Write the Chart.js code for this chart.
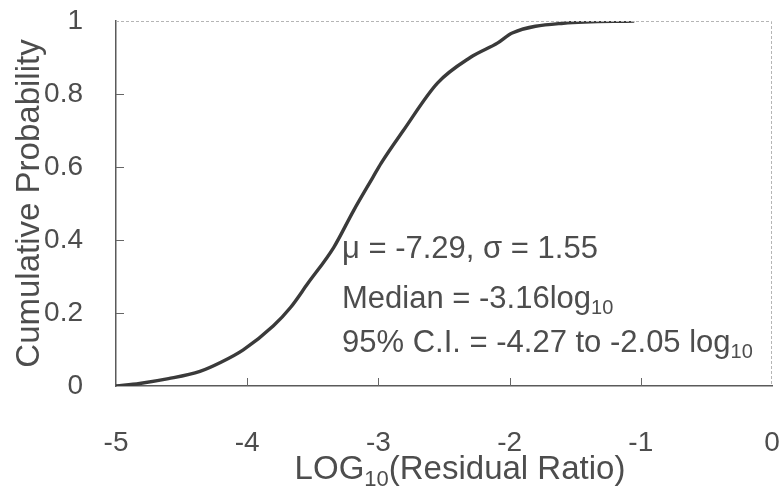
<!DOCTYPE html>
<html>
<head>
<meta charset="utf-8">
<script src="https://cdn.jsdelivr.net/npm/chart.js@4"></script>
<style>
  html, body { margin: 0; padding: 0; background: #fff; }
  #wrap { width: 784px; height: 486px; }
</style>
</head>
<body>
<div id="wrap"><canvas id="cdf"></canvas></div>
<script>
// log10 residual ratio vs cumulative probability
const logRatio = [-5, -4.82, -4.6, -4.36, -4.2, -4.03, -3.8, -3.67, -3.54, -3.34, -3.19, -3.04, -2.98, -2.81, -2.55, -2.3, -2.09, -1.98, -1.59, -1.05];
const cumProb  = [0, 0.007, 0.02, 0.04, 0.065, 0.099, 0.165, 0.215, 0.28, 0.38, 0.48, 0.573, 0.61, 0.70, 0.83, 0.90, 0.94, 0.967, 0.994, 1.0];
const xTicks = [-5, -4, -3, -2, -1, 0];
const yTicks = [0, 0.2, 0.4, 0.6, 0.8, 1];
const statLines = [
  ["μ = -7.29, σ = 1.55"],
  ["Median = -3.16log", "10"],
  ["95% C.I. = -4.27 to -2.05 log", "10"]
];

const INK = "#4d4d4d";
const FONT = "Liberation Sans, Arial, sans-serif";

// text with an optional subscript piece, returns width drawn
function drawSub(ctx, x, y, main, sub, size) {
  ctx.font = size + "px " + FONT;
  ctx.fillText(main, x, y);
  let w = ctx.measureText(main).width;
  if (sub) {
    ctx.font = Math.round(size * 0.66) + "px " + FONT;
    ctx.fillText(sub, x + w, y + size * 0.2);
    w += ctx.measureText(sub).width;
  }
  return w;
}

const extras = {
  id: "extras",
  afterDraw(chart) {
    const {ctx, chartArea: a, scales: {x, y}} = chart;
    ctx.save();
    // light frame on top and right
    ctx.strokeStyle = "#b5b5b5";
    ctx.lineWidth = 1;
    ctx.setLineDash([3, 2]);
    ctx.beginPath();
    ctx.moveTo(a.left, a.top + 0.5); ctx.lineTo(a.right - 0.5, a.top + 0.5); ctx.lineTo(a.right - 0.5, a.bottom);
    ctx.stroke();
    ctx.setLineDash([]);
    // inward tick marks
    ctx.strokeStyle = "#666";
    ctx.beginPath();
    xTicks.slice(1, -1).forEach(v => {
      const px = Math.round(x.getPixelForValue(v)) + 0.5;
      ctx.moveTo(px, a.bottom); ctx.lineTo(px, a.bottom - 8);
    });
    yTicks.slice(1, -1).forEach(v => {
      const py = Math.round(y.getPixelForValue(v)) + 0.5;
      ctx.moveTo(a.left, py); ctx.lineTo(a.left + 8, py);
    });
    ctx.stroke();

    ctx.fillStyle = INK;
    ctx.textBaseline = "alphabetic";
    ctx.textAlign = "left";
    // stats block
    const base = [258, 308, 352];
    statLines.forEach((l, i) => drawSub(ctx, 342, base[i], l[0], l[1], 31));
    // x title, LOG with subscript 10
    const ts = 33;
    ctx.font = ts + "px " + FONT;
    let tw = ctx.measureText("LOG").width + ctx.measureText("(Residual Ratio)").width;
    ctx.font = Math.round(ts * 0.66) + "px " + FONT;
    tw += ctx.measureText("10").width;
    let cx = 460 - tw / 2;
    cx += drawSub(ctx, cx, 479, "LOG", "10", ts);
    drawSub(ctx, cx, 479, "(Residual Ratio)", null, ts);
    // y title
    ctx.translate(30, (a.top + a.bottom) / 2);
    ctx.rotate(-Math.PI / 2);
    ctx.textAlign = "center";
    ctx.textBaseline = "middle";
    ctx.font = ts + "px " + FONT;
    ctx.fillText("Cumulative Probability", 0, 0);
    ctx.restore();
  }
};

// keep tick padding out of the layout so the plot area stays put
function noPad(s) { s.paddingLeft = 0; s.paddingRight = 0; s.paddingTop = 0; s.paddingBottom = 0; }

new Chart(document.getElementById("cdf"), {
  type: "line",
  data: {
    datasets: [{
      data: logRatio.map((v, i) => ({x: v, y: cumProb[i]})),
      borderColor: "#3a3a3a",
      borderWidth: 3.4,
      pointRadius: 0,
      cubicInterpolationMode: "monotone",
      fill: false
    }]
  },
  options: {
    responsive: true,
    maintainAspectRatio: false,
    animation: false,
    layout: {padding: {left: 0, right: 12, top: 21, bottom: 0}},
    plugins: {legend: {display: false}, tooltip: {enabled: false}},
    scales: {
      x: {
        type: "linear", min: -5, max: 0,
        afterFit: s => { s.height = 100; noPad(s); },
        afterBuildTicks: s => { s.ticks = xTicks.map(v => ({value: v})); },
        grid: {display: false, drawTicks: false},
        border: {color: "#5a5a5a", width: 1.5},
        ticks: {color: INK, font: {family: FONT, size: 28}, padding: 40, maxRotation: 0,
                callback: v => String(v)}
      },
      y: {
        type: "linear", min: 0, max: 1,
        afterFit: s => { s.width = 116; noPad(s); },
        afterBuildTicks: s => { s.ticks = yTicks.map(v => ({value: v})); },
        grid: {display: false, drawTicks: false},
        border: {color: "#5a5a5a", width: 1.5},
        ticks: {color: INK, font: {family: FONT, size: 28}, padding: 33,
                callback: v => String(v)}
      }
    }
  },
  plugins: [extras]
});
</script>
</body>
</html>
